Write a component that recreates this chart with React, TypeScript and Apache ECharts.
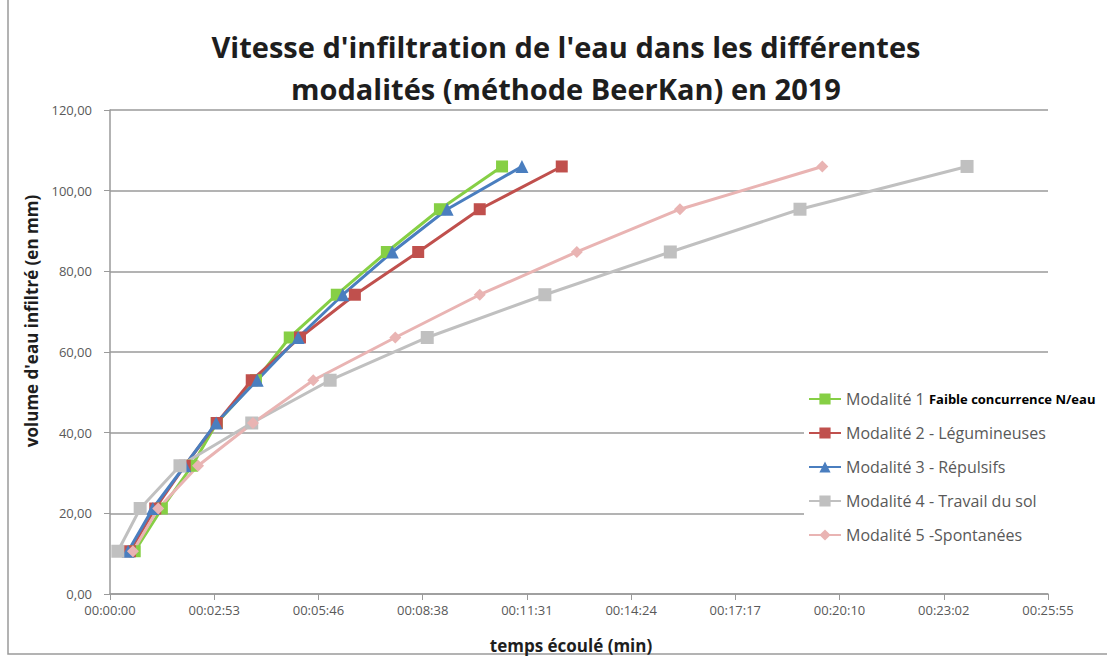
import React, { useEffect, useRef } from "react";
import * as echarts from "echarts";

const volumes = [10.6, 21.2, 31.8, 42.4, 53.0, 63.6, 74.2, 84.8, 95.4, 106.0];
const timeM1 = [41, 86, 136, 177, 242, 298, 376, 459, 547, 650];
const timeM2 = [33, 75, 124, 177, 235, 315, 406, 511, 613, 749];
const timeM3 = [30, 71, 124, 176, 244, 312, 386, 468, 559, 683];
const timeM4 = [13, 50, 116, 235, 365, 526, 721, 929, 1144, 1421];
const timeM5 = [38, 80, 146, 237, 337, 473, 613, 774, 945, 1181];

const seriesNames = [
  "Modalité 1 Faible concurrence N/eau",
  "Modalité 2 - Légumineuses",
  "Modalité 3 - Répulsifs",
  "Modalité 4 - Travail du sol",
  "Modalité 5 -Spontanées",
];

const pair = (ts: number[]) => ts.map((t, i) => [t, volumes[i]]);

function fmtTime(v: number) {
  const s = Math.round(v);
  const h = Math.floor(s / 3600);
  const m = Math.floor((s % 3600) / 60);
  const sec = s % 60;
  const p = (n: number) => String(n).padStart(2, "0");
  return `${p(h)}:${p(m)}:${p(sec)}`;
}

export default function App() {
  const ref = useRef<HTMLDivElement>(null);
  useEffect(() => {
    if (!ref.current) return;
    const chart = echarts.init(ref.current, undefined, { renderer: "svg" });
    const font = "'Open Sans', 'Liberation Sans', sans-serif";
    const mk = (
      name: string,
      data: number[][],
      color: string,
      symbol: string,
      symbolSize: number
    ) => ({
      name,
      type: "line",
      data,
      symbol,
      symbolSize,
      showAllSymbol: true,
      lineStyle: { color, width: 3 },
      itemStyle: { color },
      z: 3,
    });
    chart.setOption({
      animation: false,
      backgroundColor: "#ffffff",
      textStyle: { fontFamily: font },
      title: {
        text: "Vitesse d'infiltration de l'eau dans les différentes\nmodalités (méthode BeerKan) en 2019",
        left: 561,
        textAlign: "center",
        top: 20,
        textStyle: {
          fontFamily: font,
          fontSize: 29,
          fontWeight: "bold",
          color: "#1e1e1e",
          lineHeight: 42,
        },
      },
      grid: { left: 110, right: 59, top: 110, bottom: 64 },
      legend: {
        orient: "vertical",
        left: 804,
        top: 387,
        itemWidth: 32,
        itemHeight: 14,
        itemGap: 18,
        backgroundColor: "#ffffff",
        padding: [4, 0, 4, 4],
        textStyle: {
          fontFamily: font,
          fontSize: 16,
          lineHeight: 14,
          color: "#595959",
          rich: {
            b: { fontFamily: font, fontSize: 13, fontWeight: "bold", color: "#000000", lineHeight: 14 },
          },
        },
        formatter: (name: string) => {
          if (name.startsWith("Modalité 1 ")) {
            return "Modalité 1 {b|Faible concurrence N/eau}";
          }
          return name;
        },
        data: seriesNames,
      },
      xAxis: {
        type: "value",
        min: 0,
        max: 1555.2,
        interval: 172.8,
        axisLine: { show: true, lineStyle: { color: "#9a9a9a", width: 1.5 } },
        axisTick: { show: true, length: 6, lineStyle: { color: "#9a9a9a" } },
        axisLabel: {
          fontFamily: font,
          fontSize: 13,
          color: "#595959",
          margin: 9,
          formatter: (v: number) => fmtTime(v),
        },
        splitLine: { show: false },
      },
      yAxis: {
        type: "value",
        min: 0,
        max: 120,
        interval: 20,
        axisLine: { show: true, lineStyle: { color: "#9a9a9a", width: 1.5 } },
        axisTick: { show: true, length: 6, lineStyle: { color: "#9a9a9a" } },
        axisLabel: {
          fontFamily: font,
          fontSize: 13,
          color: "#595959",
          margin: 18,
          formatter: (v: number) => v.toFixed(2).replace(".", ","),
        },
        splitLine: { show: true, lineStyle: { color: "#b3b3b3", width: 1.8 } },
      },
      graphic: [
        {
          type: "rect",
          shape: { x: 8, y: -2, width: 1120, height: 656 },
          style: { fill: "none", stroke: "#9a9a9a", lineWidth: 1.5 },
          silent: true,
        },
        {
          type: "text",
          x: 31,
          y: 321,
          rotation: Math.PI / 2,
          style: {
            text: "volume d'eau infiltré (en mm)",
            fontFamily: font,
            fontSize: 17,
            fontWeight: "bold",
            fill: "#1e1e1e",
            textAlign: "center",
            textVerticalAlign: "middle",
          },
        },
        {
          type: "text",
          x: 571,
          y: 645,
          style: {
            text: "temps écoulé (min)",
            fontFamily: font,
            fontSize: 17,
            fontWeight: "bold",
            fill: "#1e1e1e",
            textAlign: "center",
            textVerticalAlign: "middle",
          },
        },
      ],
      series: [
        mk(seriesNames[0], pair(timeM1), "#86cf45", "rect", 12),
        mk(seriesNames[1], pair(timeM2), "#c0504d", "rect", 12),
        mk(seriesNames[2], pair(timeM3), "#4a7ebf", "triangle", 13),
        mk(seriesNames[3], pair(timeM4), "#c0c0c0", "rect", 13),
        mk(seriesNames[4], pair(timeM5), "#e9b4b3", "diamond", 12),
      ],
    });
    return () => chart.dispose();
  }, []);
  return (
    <div
      ref={ref}
      style={{ position: "fixed", left: 0, top: 0, width: 1107, height: 658 }}
    />
  );
}
